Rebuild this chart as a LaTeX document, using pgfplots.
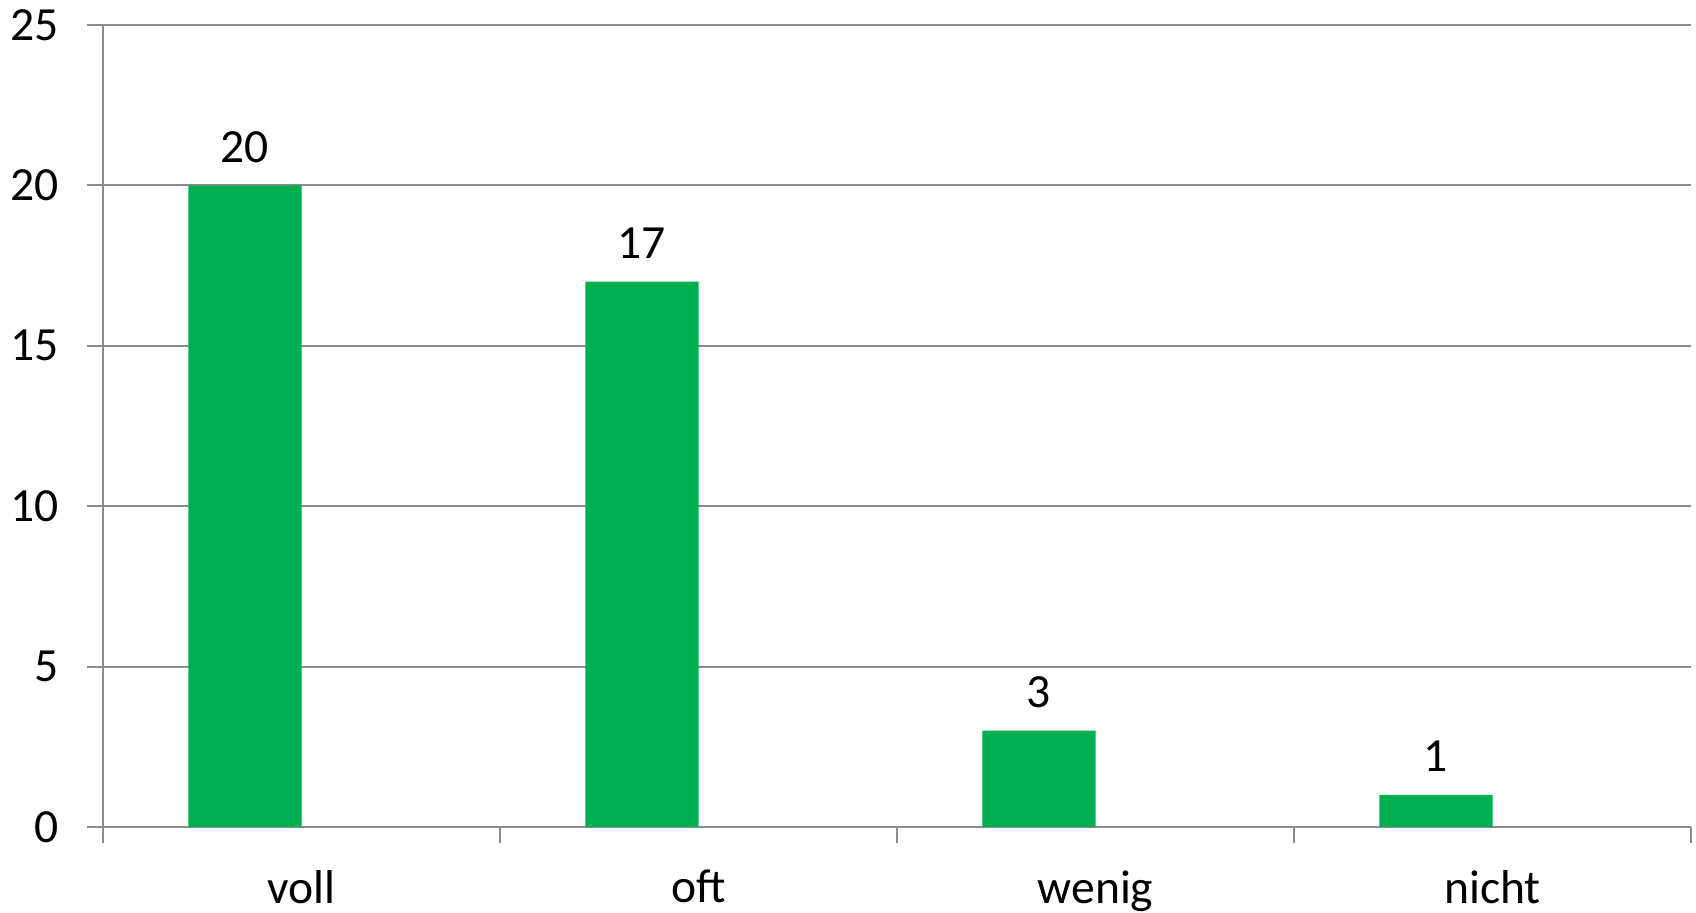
\documentclass[border=0pt]{standalone}
\usepackage{pgfplots}
\pgfplotsset{compat=1.18}
\usepackage{fontspec}
\setmainfont{Carlito}
\definecolor{barGreen}{HTML}{00B050}
\definecolor{gridGray}{HTML}{8C8C8C}

\begin{document}
\begin{tikzpicture}[font=\fontsize{11.9}{14}\selectfont]
\begin{axis}[
  name=ax,
  scale only axis,
  width=397pt, height=200.5pt,
  xmin=-0.5, xmax=3.5,
  ymin=0, ymax=25,
  ytick={0,5,...,25},
  ymajorgrids,
  grid style={gridGray, line width=0.5pt},
  axis x line*=bottom, axis y line*=left,
  axis line style={gridGray, line width=0.5pt, -},
  tick style={gridGray, line width=0.5pt},
  tick align=outside,
  major tick length=4pt,
  xtick={-0.5,0.5,1.5,2.5,3.5},
  xticklabels={},
  extra x ticks={0,1,2,3},
  extra x tick labels={voll,oft,wenig,nicht},
  extra x tick style={major tick length=0pt, tick label style={yshift=-7.3pt}},
  yticklabel style={xshift=-3.5pt},
  /pgf/number format/assume math mode=true,
  ybar, bar width=0.285, bar shift=-0.1425,
  nodes near coords,
  every node near coord/.append style={black, yshift=2.2pt},
]
\addplot[fill=barGreen, draw=none] coordinates {(0,20) (1,17) (2,3) (3,1)};
\end{axis}
\pgfresetboundingbox
\path[use as bounding box] ([shift={(-25.75pt,-21.5pt)}]ax.south west) rectangle ([shift={(1.25pt,6.25pt)}]ax.north east);
\end{tikzpicture}
\end{document}
